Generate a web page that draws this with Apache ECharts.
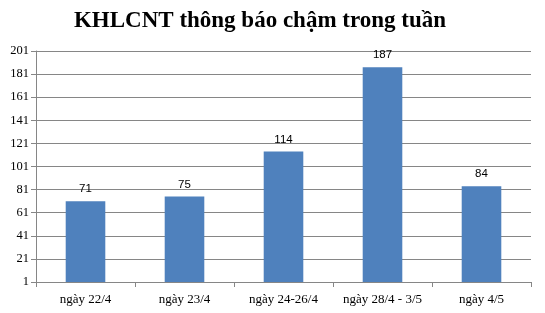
<!DOCTYPE html>
<html><head><meta charset="utf-8">
<script src="https://cdn.jsdelivr.net/npm/echarts@6/dist/echarts.min.js"></script>
<style>html,body{margin:0;padding:0;background:#fff}#c{width:545px;height:313px}</style>
</head><body><div id="c"></div>
<script>
const categories = ['ngày 22/4', 'ngày 23/4', 'ngày 24-26/4', 'ngày 28/4 - 3/5', 'ngày 4/5'];
const values = [71, 75, 114, 187, 84];
const yTicks = [1, 21, 41, 61, 81, 101, 121, 141, 161, 181, 201];
const titleText = 'KHLCNT thông báo chậm trong tuần';

const chart = echarts.init(document.getElementById('c'), null, {renderer: 'canvas'});
chart.setOption({
  animation: false,
  backgroundColor: '#ffffff',
  title: {
    text: titleText,
    left: 255, top: 5, textAlign: 'center',
    textStyle: {fontFamily: 'Liberation Serif', fontWeight: 'bold', fontSize: 23, color: '#000'}
  },
  grid: {left: 36, right: 14, top: 51, bottom: 31, containLabel: false},
  xAxis: {
    type: 'category', data: categories,
    axisLine: {lineStyle: {color: '#868686', width: 1}},
    axisTick: {show: true, length: 5, interval: 0, lineStyle: {color: '#868686'}},
    axisLabel: {fontFamily: 'Liberation Serif', fontSize: 13, color: '#000', margin: 11, interval: 0, hideOverlap: false}
  },
  yAxis: {
    type: 'value', min: yTicks[0], max: yTicks[yTicks.length - 1],
    axisLine: {show: true, lineStyle: {color: '#868686', width: 1}},
    axisTick: {show: true, length: 5, lineStyle: {color: '#868686'}, customValues: yTicks},
    axisLabel: {fontFamily: 'Liberation Serif', fontSize: 12.5, color: '#000', margin: 7, customValues: yTicks},
    splitLine: {show: true, lineStyle: {color: '#868686', width: 1}}
  },
  series: [{
    type: 'bar', data: values, barWidth: '40%',
    itemStyle: {color: '#4F81BD'},
    label: {show: true, position: 'top', distance: 6, fontFamily: 'Liberation Sans', fontSize: 11.5, color: '#000'}
  }]
});
</script></body></html>
